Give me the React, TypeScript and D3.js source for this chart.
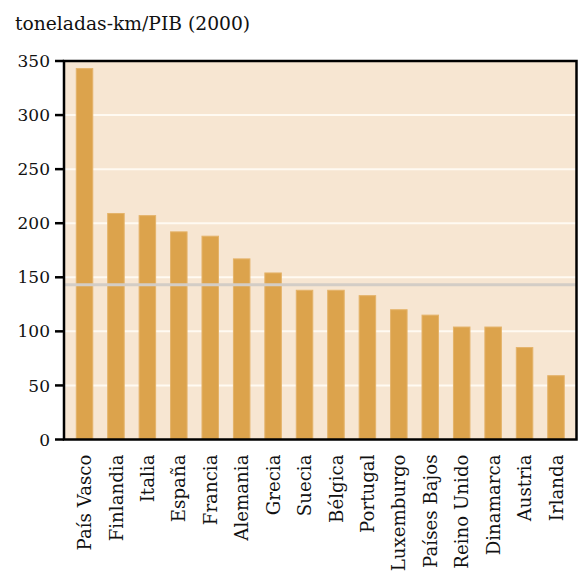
import React from "react";
import * as d3 from "d3";

const countries = [
  "País Vasco", "Finlandia", "Italia", "España", "Francia", "Alemania", "Grecia", "Suecia",
  "Bélgica", "Portugal", "Luxemburgo", "Países Bajos", "Reino Unido", "Dinamarca", "Austria", "Irlanda",
];
const values = [343, 209, 207, 192, 188, 167, 154, 138, 138, 133, 120, 115, 104, 104, 85, 59];
const yTicks = [0, 50, 100, 150, 200, 250, 300, 350];
const average = [143];

const W = 578;
const H = 574;
const left = 64;
const right = 576.5;
const top = 61;
const bottom = 439.5;
const font = "'DejaVu Serif', serif";

export default function App() {
  const x = d3.scaleBand<string>().domain(countries).range([left, right]).paddingInner(0.475).paddingOuter(0.39);
  const y = d3.scaleLinear().domain([0, 350]).range([bottom, top]);

  return (
    <svg width={W} height={H} style={{ position: "absolute", left: 0, top: 0 }}>
      <text x={15} y={30} fontFamily={font} fontSize={18.7} fill="#111">toneladas-km/PIB (2000)</text>
      <rect x={left} y={top} width={right - left} height={bottom - top} fill="#f7e6d2" />
      {yTicks.slice(1, -1).map((t) => (
        <line key={t} x1={left} x2={right} y1={y(t)} y2={y(t)} stroke="#fffaf2" strokeWidth={2} />
      ))}
      {countries.map((c, i) => (
        <rect
          key={c}
          x={x(c)!}
          y={y(values[i])}
          width={x.bandwidth()}
          height={bottom - y(values[i])}
          fill="#dca34c"
          stroke="#e4b36a"
          strokeWidth={1}
        />
      ))}
      {average.map((a) => (
        <line key={a} x1={left} x2={right} y1={y(a)} y2={y(a)} stroke="#d3cdc6" strokeWidth={3} />
      ))}
      <rect x={left} y={top} width={right - left} height={bottom - top} fill="none" stroke="#000" strokeWidth={2.5} />
      {yTicks.map((t) => (
        <g key={t}>
          <line x1={left - 9} x2={left} y1={y(t)} y2={y(t)} stroke="#000" strokeWidth={2.5} />
          <text x={left - 14} y={y(t)} dy="0.36em" textAnchor="end" fontFamily={font} fontSize={17} fill="#111">
            {t}
          </text>
        </g>
      ))}
      {countries.map((c) => (
        <text
          key={c}
          transform={`translate(${x(c)! + x.bandwidth() / 2},${bottom + 15}) rotate(-90)`}
          dy="0.36em"
          textAnchor="end"
          fontFamily={font}
          fontSize={18.2}
          fill="#111"
        >
          {c}
        </text>
      ))}
    </svg>
  );
}
